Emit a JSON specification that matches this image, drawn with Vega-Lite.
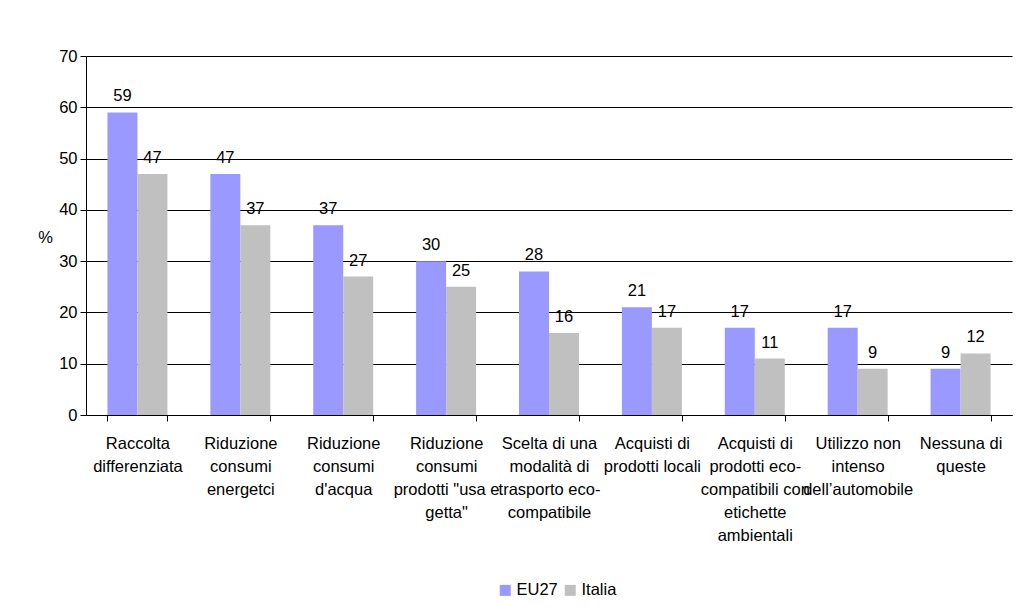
{
  "$schema": "https://vega.github.io/schema/vega-lite/v6.json",
  "autosize": {"type": "none"},
  "width": 926,
  "height": 359,
  "padding": {"left": 86, "top": 56, "right": 17, "bottom": 197},
  "background": "white",
  "config": {
    "font": "Liberation Sans",
    "view": {"stroke": null}
  },
  "data": {
    "values": [
      {"cat": "Raccolta|differenziata", "serie": "EU27", "v": 59},
      {"cat": "Raccolta|differenziata", "serie": "Italia", "v": 47},
      {"cat": "Riduzione|consumi|energetci", "serie": "EU27", "v": 47},
      {"cat": "Riduzione|consumi|energetci", "serie": "Italia", "v": 37},
      {"cat": "Riduzione|consumi|d'acqua", "serie": "EU27", "v": 37},
      {"cat": "Riduzione|consumi|d'acqua", "serie": "Italia", "v": 27},
      {"cat": "Riduzione|consumi|prodotti \"usa e|getta\"", "serie": "EU27", "v": 30},
      {"cat": "Riduzione|consumi|prodotti \"usa e|getta\"", "serie": "Italia", "v": 25},
      {"cat": "Scelta di una|modalità di|trasporto eco-|compatibile", "serie": "EU27", "v": 28},
      {"cat": "Scelta di una|modalità di|trasporto eco-|compatibile", "serie": "Italia", "v": 16},
      {"cat": "Acquisti di|prodotti locali", "serie": "EU27", "v": 21},
      {"cat": "Acquisti di|prodotti locali", "serie": "Italia", "v": 17},
      {"cat": "Acquisti di|prodotti eco-|compatibili con|etichette|ambientali", "serie": "EU27", "v": 17},
      {"cat": "Acquisti di|prodotti eco-|compatibili con|etichette|ambientali", "serie": "Italia", "v": 11},
      {"cat": "Utilizzo non|intenso|dell’automobile", "serie": "EU27", "v": 17},
      {"cat": "Utilizzo non|intenso|dell’automobile", "serie": "Italia", "v": 9},
      {"cat": "Nessuna di|queste", "serie": "EU27", "v": 9},
      {"cat": "Nessuna di|queste", "serie": "Italia", "v": 12}
    ]
  },
  "encoding": {
    "x": {
      "field": "cat",
      "type": "nominal",
      "sort": null,
      "scale": {"paddingInner": 0.417, "paddingOuter": 0.2085},
      "axis": {
        "title": null,
        "labelAngle": 0,
        "labelExpr": "isValid(datum.value) ? split(datum.value, '|') : ''",
        "labelFontSize": 16.5,
        "labelColor": "black",
        "labelLineHeight": 23,
        "labelPadding": 14,
        "labelLimit": 300,
        "labelOverlap": false,
        "labelBaseline": "top",
        "tickBand": "extent",
        "tickSize": 6,
        "tickColor": "black",
        "domainColor": "black",
        "grid": false
      }
    },
    "xOffset": {"field": "serie", "type": "nominal", "scale": {"paddingInner": 0, "paddingOuter": 0}},
    "y": {
      "field": "v",
      "type": "quantitative",
      "scale": {"domain": [0, 70], "nice": false},
      "axis": {
        "values": [0, 10, 20, 30, 40, 50, 60, 70],
        "title": "%",
        "titleAngle": 0,
        "titleFontSize": 16.5,
        "titleFontWeight": "normal",
        "titleColor": "black",
        "titleX": -41,
        "titleY": 181,
        "titleAlign": "center",
        "titleBaseline": "middle",
        "labelFontSize": 16.5,
        "labelColor": "black",
        "labelPadding": 3,
        "tickSize": 6,
        "tickColor": "black",
        "domainColor": "black",
        "grid": true,
        "gridColor": "black",
        "gridOpacity": 1
      }
    }
  },
  "layer": [
    {
      "mark": {"type": "bar"},
      "encoding": {
        "color": {
          "field": "serie",
          "type": "nominal",
          "scale": {"domain": ["EU27", "Italia"], "range": ["#9999FF", "#C0C0C0"]},
          "legend": {
            "title": null,
            "orient": "none",
            "direction": "horizontal",
            "legendX": 411,
            "legendY": 526,
            "symbolType": "square",
            "symbolSize": 121,
            "symbolStrokeWidth": 0,
            "labelFontSize": 16.5,
            "labelColor": "black",
            "labelOffset": 3,
            "columnPadding": 4,
            "padding": 0
          }
        }
      }
    },
    {
      "mark": {"type": "text", "baseline": "alphabetic", "dy": -11, "fontSize": 16.5, "color": "black"},
      "encoding": {
        "text": {"field": "v", "type": "quantitative"}
      }
    }
  ]
}
